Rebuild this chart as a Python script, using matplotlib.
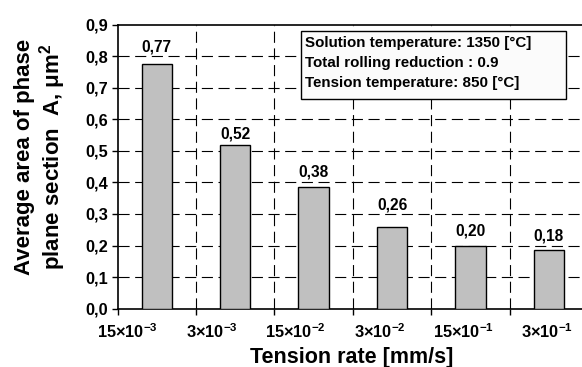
import matplotlib
matplotlib.use("Agg")
import matplotlib.pyplot as plt
import numpy as np
from matplotlib.patches import Rectangle

plt.rcParams['font.family'] = ['Liberation Sans', 'DejaVu Sans']
plt.rcParams['font.weight'] = 'bold'
plt.rcParams['mathtext.fontset'] = 'custom'
plt.rcParams['mathtext.rm'] = 'Liberation Sans:bold'
plt.rcParams['mathtext.it'] = 'Liberation Sans:bold'
plt.rcParams['mathtext.bf'] = 'Liberation Sans:bold'
plt.rcParams['mathtext.default'] = 'rm'

# data
rates = ['15×10$^{-3}$', '3×10$^{-3}$', '15×10$^{-2}$', '3×10$^{-2}$', '15×10$^{-1}$', '3×10$^{-1}$']
area = [0.774, 0.519, 0.384, 0.259, 0.199, 0.185]
area_labels = ['0,77', '0,52', '0,38', '0,26', '0,20', '0,18']
y_ticks = [0.0, 0.1, 0.2, 0.3, 0.4, 0.5, 0.6, 0.7, 0.8, 0.9]
y_tick_labels = ['0,0', '0,1', '0,2', '0,3', '0,4', '0,5', '0,6', '0,7', '0,8', '0,9']
notes = ['Solution temperature: 1350 [°C]',
         'Total rolling reduction : 0.9',
         'Tension temperature: 850 [°C]']

# the value labels were placed by hand in the original, so the gap varies (points, to baseline)
label_gap = [9.0, 4.4, 7.6, 12.4, 7.4, 7.3]

W, H = 582, 367
fig = plt.figure(figsize=(W / 100, H / 100), dpi=100)
ax = fig.add_axes([117.6 / W, 1 - 308.7 / H, (588 - 117.6) / W, (308.7 - 24.5) / H])

n = len(area)
centers = np.arange(n) + 0.5
ax.bar(centers, area, width=0.39, color='#c0c0c0', edgecolor='black', linewidth=1, zorder=3)

for c, v, lab, g in zip(centers, area, area_labels, label_gap):
    ax.annotate(lab, (c, v), xytext=(0, g), textcoords='offset points',
                ha='center', va='baseline', fontsize=11.2, fontweight='bold')

ax.set_xlim(0, n)
ax.set_ylim(0, 0.9)

# grid
dash = (0, (10, 5))
for yv in y_ticks[1:-1]:
    ax.axhline(yv, color='black', lw=0.8, linestyle=dash, zorder=1)
for xv in range(1, n):
    ax.axvline(xv, color='black', lw=0.8, linestyle=dash, zorder=1)

ax.set_yticks(y_ticks)
ax.set_yticklabels(y_tick_labels, fontsize=11.8, fontweight='bold')
ax.tick_params(axis='y', direction='out', length=4, width=1, pad=3)

# boundary ticks without labels, labels placed a bit to the right
ax.set_xticks(np.arange(n + 1), minor=True)
ax.tick_params(axis='x', which='minor', direction='out', length=4.5, width=1)
label_pos = 0.13 + 1.07 * np.arange(n)
ax.set_xticks(label_pos)
ax.set_xticklabels(rates, fontsize=11.8, fontweight='bold')
ax.tick_params(axis='x', which='major', length=0, pad=9.5)

for s in ax.spines.values():
    s.set_linewidth(1.2)

# notes box
fig.patches.append(Rectangle((301 / W, 1 - 99 / H), (566 - 301) / W, (99 - 30.7) / H,
                             transform=fig.transFigure, facecolor='#fbfbfb',
                             edgecolor='black', lw=1, zorder=5))
for i, t in enumerate(notes):
    fig.text(305 / W, 1 - (43 + 20 * i) / H, t, ha='left', va='center',
             fontsize=10.9, fontweight='bold', zorder=6)

fig.text(41 / W, 1 - 157 / H, 'Average area of phase\nplane section  A, μm$^{2}$',
         rotation=90, ha='center', va='center', multialignment='center',
         fontsize=16, fontweight='bold', linespacing=1.1)
fig.text(351.5 / W, 1 - 357 / H, 'Tension rate [mm/s]', ha='center', va='center',
         fontsize=15.5, fontweight='bold')

fig.savefig('out.png', dpi=100)
